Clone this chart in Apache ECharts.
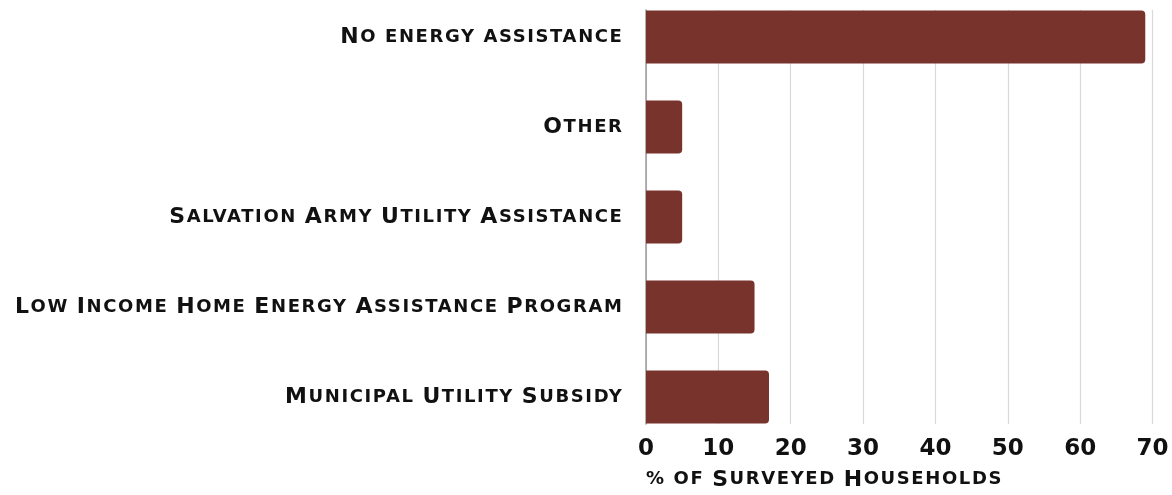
<!DOCTYPE html>
<html>
<head>
<meta charset="utf-8">
<script src="https://cdn.jsdelivr.net/npm/echarts@6/dist/echarts.min.js"></script>
<style>
html,body{margin:0;padding:0;background:#fff;}
#c{width:1172px;height:495px;}
</style>
</head>
<body>
<div id="c"></div>
<script>
const categories = [
  "No energy assistance",
  "Other",
  "Salvation Army Utility Assistance",
  "Low Income Home Energy Assistance Program",
  "Municipal Utility Subsidy"
];
const values = [69, 5, 5, 15, 17];
const tickValues = [0, 10, 20, 30, 40, 50, 60, 70];
const axisTitle = "% of Surveyed Households";

// Wide-tracked small caps: apply canvas letterSpacing to text set in the "Verdana" stack
(function () {
  const P = CanvasRenderingContext2D.prototype;
  ["fillText", "strokeText", "measureText"].forEach(function (name) {
    const orig = P[name];
    P[name] = function () {
      if ("letterSpacing" in this) {
        this.letterSpacing = (this.font && this.font.indexOf("Verdana") >= 0) ? "1.6px" : "0px";
      }
      return orig.apply(this, arguments);
    };
  });
})();

function smallCaps(str) {
  let out = "";
  let cur = null, buf = "";
  for (const ch of str) {
    const isCap = ch !== ch.toLowerCase() && ch === ch.toUpperCase();
    const kind = isCap ? "b" : "s";
    if (kind !== cur) {
      if (buf) out += "{" + cur + "|" + buf + "}";
      cur = kind; buf = "";
    }
    buf += ch.toUpperCase();
  }
  if (buf) out += "{" + cur + "|" + buf + "}";
  return out;
}

const FONT = "Verdana, 'DejaVu Sans'";
const TICKFONT = "'DejaVu Sans'";
const rich = {
  b: { fontFamily: FONT, fontWeight: "bold", fontSize: 22, color: "#111" },
  s: { fontFamily: FONT, fontWeight: "bold", fontSize: 18, color: "#111" }
};

const chart = echarts.init(document.getElementById("c"), null, { renderer: "canvas" });
chart.setOption({
  animation: false,
  backgroundColor: "#fff",
  title: {
    text: smallCaps(axisTitle),
    left: 641,
    top: 463,
    textStyle: { rich: rich }
  },
  grid: [
    { left: 646, right: 19.5, top: 10, bottom: 71, outerBoundsMode: "none" },
    { left: 646, right: 19.5, top: -8, bottom: 53, outerBoundsMode: "none" }
  ],
  xAxis: [
    {
      gridIndex: 0, type: "value", min: tickValues[0], max: tickValues[tickValues.length - 1], interval: 10,
      axisLine: { show: false }, axisTick: { show: false },
      splitLine: { show: true, lineStyle: { color: "#d9d9d9", width: 1.2 } },
      axisLabel: { fontFamily: TICKFONT, fontWeight: "bold", fontSize: 23, color: "#111", margin: 14,
        formatter: v => tickValues.includes(v) ? String(v) : "" }
    },
    {
      gridIndex: 1, type: "value", min: tickValues[0], max: tickValues[tickValues.length - 1], show: false
    }
  ],
  yAxis: [
    {
      gridIndex: 0, type: "value", min: 0, max: 1,
      axisLine: { show: true, lineStyle: { color: "#9a9a9a", width: 1.5 } },
      axisTick: { show: false }, axisLabel: { show: false }, splitLine: { show: false }
    },
    {
      gridIndex: 1, type: "category", data: categories, inverse: true,
      axisLine: { show: false }, axisTick: { show: false },
      axisLabel: { margin: 22.5, formatter: v => smallCaps(v), rich: rich }
    }
  ],
  series: [{
    type: "bar",
    xAxisIndex: 1, yAxisIndex: 1,
    data: values,
    barWidth: 53,
    itemStyle: { color: "#78332c", borderRadius: [0, 4, 4, 0] }
  }]
});
</script>
</body>
</html>
